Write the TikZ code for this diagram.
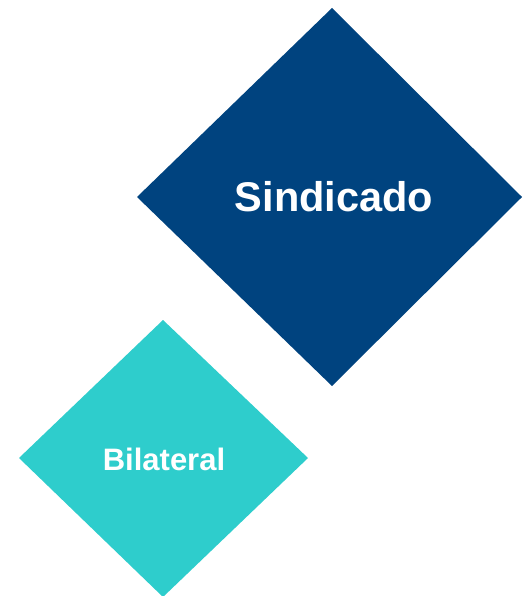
\documentclass[tikz,border=0pt]{standalone}
\usepackage{fontspec}
\setmainfont{Liberation Sans}
\definecolor{darkblue}{HTML}{00437F}
\definecolor{teal2}{HTML}{2ECDCC}
\begin{document}
\begin{tikzpicture}[x=1pt,y=-1pt,
  label/.style={text=white,font=\bfseries,inner sep=0pt,anchor=center}]
\useasboundingbox (0,0) rectangle (522,596);
\fill[darkblue] (332,8) -- (522,197) -- (332,386) -- (137,197) -- cycle;
\fill[teal2] (163,320) -- (308,458) -- (163,597) -- (19,458) -- cycle;
\node[label,font=\bfseries\fontsize{41.5}{48}\selectfont] (s) at (334,197) {Sindicado};
\node[label,font=\bfseries\fontsize{31}{36}\selectfont] (b) at (164,459) {Bilateral};
\end{tikzpicture}
\end{document}
